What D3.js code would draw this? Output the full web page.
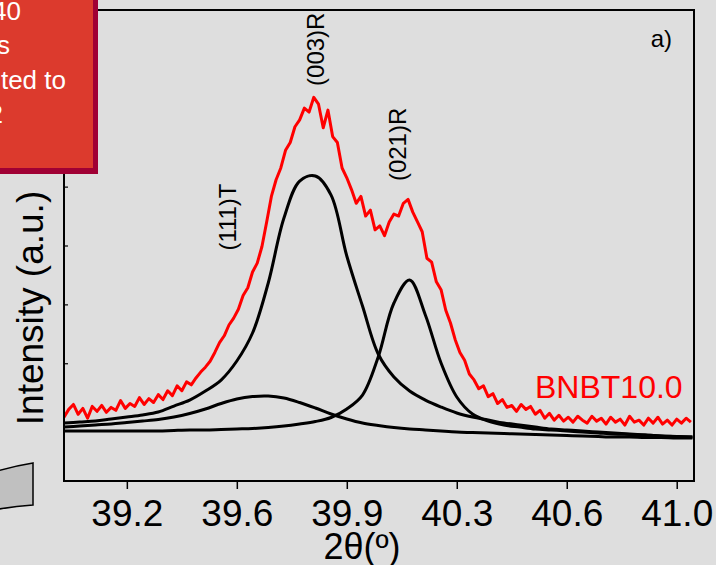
<!DOCTYPE html>
<html>
<head>
<meta charset="utf-8">
<script src="https://cdn.jsdelivr.net/npm/d3@7"></script>
<style>
  html, body { margin: 0; padding: 0; background: #dedede; }
  svg { display: block; }
</style>
</head>
<body>
<div id="chart"></div>
<script>
// measured pattern (2θ in degrees, intensity in counts)
const twoTheta = [
  39.050,39.065,39.080,39.095,39.110,39.125,39.140,39.155,39.170,39.185,
  39.200,39.215,39.230,39.245,39.260,39.275,39.290,39.305,39.320,39.335,
  39.350,39.365,39.380,39.395,39.410,39.425,39.440,39.455,39.470,39.485,
  39.500,39.515,39.530,39.545,39.560,39.575,39.590,39.605,39.620,39.635,
  39.650,39.665,39.680,39.695,39.710,39.725,39.740,39.755,39.770,39.785,
  39.800,39.815,39.830,39.845,39.860,39.875,39.890,39.905,39.920,39.935,
  39.950,39.965,39.980,39.995,40.010,40.025,40.040,40.055,40.070,40.085,
  40.100,40.115,40.130,40.145,40.160,40.175,40.190,40.205,40.220,40.235,
  40.250,40.265,40.280,40.295,40.310,40.325,40.340,40.355,40.370,40.385,
  40.400,40.415,40.430,40.445,40.460,40.475,40.490,40.505,40.520,40.535,
  40.550,40.565,40.580,40.595,40.610,40.625,40.640,40.655,40.670,40.685,
  40.700,40.715,40.730,40.745,40.760,40.775,40.790,40.805,40.820,40.835,
  40.850,40.865,40.880,40.895,40.910,40.925,40.940,40.955,40.970,40.985,
  41.000,41.015,41.030,41.045
];
const measured = [
  65,73,78,68,74,64,76,71,77,70,
  75,72,82,74,79,76,85,78,84,80,
  88,83,92,87,97,92,101,98,105,111,
  116,122,131,141,148,159,166,175,189,197,
  213,222,239,264,290,307,319,337,345,361,
  368,380,376,391,384,360,378,351,345,319,
  309,297,283,290,270,276,256,260,250,264,
  272,270,283,287,274,264,254,227,223,203,
  195,174,161,144,131,123,109,103,94,97,
  86,89,79,83,75,77,71,78,73,76,
  68,72,64,69,62,67,61,65,60,66,
  62,59,66,61,64,58,65,60,63,57,
  66,60,62,57,64,59,65,58,62,57,
  63,59,64,60
];

// fitted peaks
const twoThetaFit = [
  39.05,39.10,39.15,39.20,39.25,39.30,39.35,39.40,39.45,39.50,
  39.55,39.60,39.65,39.70,39.75,39.80,39.85,39.90,39.95,40.00,
  40.05,40.10,40.15,40.20,40.25,40.30,40.35,40.40,40.45,40.50,
  40.55,40.60,40.65,40.70,40.75,40.80,40.85,40.90,40.95,41.00,
  41.05
];
const fit003R = [
  59.1,60.1,61.1,63.2,65.2,67.3,70.3,76.4,82.5,91.7,
  102.9,122.3,150.8,201.8,268,305.7,310.8,291.4,229.3,178.3,
  129.4,106,91.7,82.5,75.4,69.3,65.2,62.2,59.1,57.1,
  55,53,52,51,49.9,48.9,47.9,46.9,45.9,45.4,
  44.8
];
const fit021R = [
  50.9,50.9,50.9,50.9,50.9,50.9,50.9,51.5,52,52,
  52.5,53,53.5,54.5,56,58.1,60.6,64.7,73.4,87.6,
  126.4,181.4,204.8,169.2,120.2,85.6,68.3,61.1,57.1,55,
  53,52,50.9,49.9,48.9,47.9,47.4,46.9,45.9,45.3,
  44.8
];
const fit111T = [
  55,56,57.1,58.1,59.6,61.1,62.7,65.2,68.8,73.4,
  79,83.6,86.1,86.6,84.6,80,74.4,68.3,63.2,59.1,
  56.6,54.5,53,52,50.9,49.9,49.4,48.9,48.4,47.9,
  47.4,46.9,46.4,45.9,45.3,44.8,44.8,44.3,44.3,43.8,
  43.8
];

const xTickValues = [39.25, 39.6, 39.95, 40.3, 40.65, 41.0];
const xTickLabels = ["39.2", "39.6", "39.9", "40.3", "40.6", "41.0"];
const yTickValues = [60, 120, 180, 240, 300, 360, 420, 480];

const peakLabels = ["(111)T", "(003)R", "(021)R"];
const peakLabelPos = [[39.57, 269], [39.85, 440], [40.11, 343]];

const calloutLines = ["40", "s", "ted to", "2"];

const width = 716;
const height = 565;
const margin = { top: 10, right: 22, bottom: 84, left: 64 };
const font = "'Liberation Sans', Arial, Helvetica, sans-serif";

const svg = d3.select("#chart")
  .append("svg")
  .attr("width", width)
  .attr("height", height)
  .style("background", "#dedede");

// scales
const x = d3.scaleLinear()
  .domain([39.05, 41.055])
  .range([margin.left, width - margin.right]);

const y = d3.scaleLinear()
  .domain([0, 480])
  .range([height - margin.bottom, margin.top]);

svg.append("clipPath")
  .attr("id", "plot-clip")
  .append("rect")
  .attr("x", margin.left)
  .attr("y", margin.top)
  .attr("width", width - margin.left - margin.right)
  .attr("height", height - margin.top - margin.bottom);

// X axis
const xAxis = svg.append("g")
  .attr("transform", `translate(0, ${height - margin.bottom})`)
  .call(d3.axisBottom(x)
    .tickValues(xTickValues)
    .tickFormat((d, i) => xTickLabels[i])
    .tickSize(8)
    .tickPadding(11));
xAxis.select(".domain").remove();
xAxis.selectAll("line").attr("stroke", "#000").attr("stroke-width", 1.5);
xAxis.selectAll("text")
  .attr("fill", "#000")
  .style("font-family", font)
  .style("font-size", "37px");

// Y axis (ticks only, pointing inward)
const yAxis = svg.append("g")
  .attr("transform", `translate(${margin.left}, 0)`)
  .call(d3.axisRight(y).tickValues(yTickValues).tickSize(4).tickFormat(""));
yAxis.select(".domain").remove();
yAxis.selectAll("line").attr("stroke", "#000").attr("stroke-width", 1.2);

// fitted curves
const fitLine = d3.line()
  .x((d, i) => x(twoThetaFit[i]))
  .y(d => y(d))
  .curve(d3.curveCatmullRom);

const plot = svg.append("g").attr("clip-path", "url(#plot-clip)");

[fit111T, fit021R, fit003R].forEach(series => {
  plot.append("path")
    .datum(series)
    .attr("fill", "none")
    .attr("stroke", "#000")
    .attr("stroke-width", 3)
    .attr("d", fitLine);
});

// measured pattern
const dataLine = d3.line()
  .x((d, i) => x(twoTheta[i]))
  .y(d => y(d));

plot.append("path")
  .datum(measured)
  .attr("fill", "none")
  .attr("stroke", "#ff0000")
  .attr("stroke-width", 3)
  .attr("stroke-linejoin", "round")
  .attr("d", dataLine);

// frame
svg.append("rect")
  .attr("x", margin.left)
  .attr("y", margin.top)
  .attr("width", width - margin.left - margin.right)
  .attr("height", height - margin.top - margin.bottom)
  .attr("fill", "none")
  .attr("stroke", "#000")
  .attr("stroke-width", 2);

// peak labels
peakLabels.forEach((label, i) => {
  const px = x(peakLabelPos[i][0]);
  const py = y(peakLabelPos[i][1]);
  svg.append("text")
    .attr("transform", `translate(${px}, ${py}) rotate(-90)`)
    .attr("text-anchor", "middle")
    .attr("dominant-baseline", "central")
    .style("font-family", font)
    .style("font-size", "24px")
    .text(label);
});

// sample name and panel letter
svg.append("text")
  .attr("x", 535)
  .attr("y", 398)
  .attr("fill", "#ff0000")
  .style("font-family", font)
  .style("font-size", "32px")
  .text("BNBT10.0");

svg.append("text")
  .attr("x", 672)
  .attr("y", 47)
  .attr("text-anchor", "end")
  .style("font-family", font)
  .style("font-size", "24px")
  .text("a)");

// axis titles
svg.append("text")
  .attr("x", 362)
  .attr("y", 559)
  .attr("text-anchor", "middle")
  .style("font-family", font)
  .style("font-size", "36px")
  .text("2θ(º)");

svg.append("text")
  .attr("transform", "translate(43, 308) rotate(-90)")
  .attr("text-anchor", "middle")
  .style("font-family", font)
  .style("font-size", "37px")
  .text("Intensity (a.u.)");

// grey shape peeking in at the lower left
svg.append("path")
  .attr("d", "M-6,472 Q14,466 33,463 L33,505 Q14,506 -6,510 Z")
  .attr("fill", "#c0c0c0")
  .attr("stroke", "#000")
  .attr("stroke-width", 1.5);

// red callout box in the top-left corner
svg.append("rect")
  .attr("x", -10).attr("y", -10)
  .attr("width", 108).attr("height", 184)
  .attr("fill", "#a00034");
svg.append("rect")
  .attr("x", -10).attr("y", -10)
  .attr("width", 103).attr("height", 178)
  .attr("fill", "#dc3a2d");

const calloutEnds = [21, 10, 66, 3];
calloutLines.forEach((line, i) => {
  svg.append("text")
    .attr("x", calloutEnds[i])
    .attr("y", 20 + i * 34.3)
    .attr("text-anchor", "end")
    .attr("fill", "#fff")
    .style("font-family", font)
    .style("font-size", "26px")
    .text(line);
});
</script>
</body>
</html>
